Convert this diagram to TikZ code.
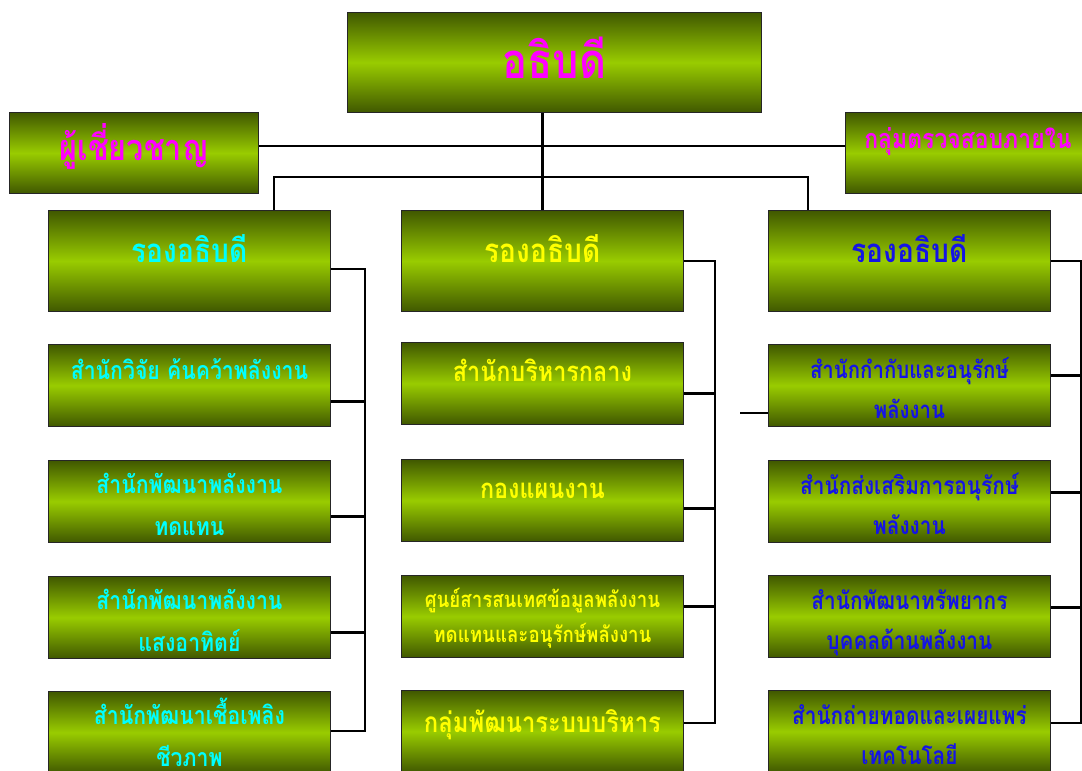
\documentclass[tikz,border=0pt]{standalone}
\usepackage{fontspec}
\newfontfamily\thaifont[Script=Thai, FakeStretch=0.85]{Loma}
\definecolor{olivedark}{HTML}{405800}
\definecolor{olivelight}{HTML}{99CC00}
\definecolor{dirmag}{HTML}{FF00FF}
\definecolor{vpcyan}{HTML}{00FFFF}
\definecolor{vpyellow}{HTML}{FFFF00}
\definecolor{vpblue}{HTML}{1414E6}
\begin{document}
\begin{tikzpicture}[x=1pt, y=-1pt,
  box/.style={draw=black!85, line width=0.9pt, anchor=north west, inner sep=0pt,
    top color=olivedark, bottom color=olivedark, middle color=olivelight},
  vpbox/.style={box, minimum width=282pt, minimum height=101pt},
  subbox/.style={box, minimum width=282pt, minimum height=82pt},
  txt/.style={anchor=base, inner sep=0pt, align=center, font=\thaifont\bfseries},
  conn/.style={line width=2.6pt, black}]
  \useasboundingbox (0,0) rectangle (1082,771);
  % okvirji
  \node [box, minimum width=414pt, minimum height=100pt] (dir) at (347,12) {};
  \node [box, minimum width=249pt, minimum height=81pt] (exp) at (9,112) {};
  \node [box, minimum width=245pt, minimum height=81pt] (aud) at (845,112) {};
  \node [vpbox] (vpL) at (48,210) {};
  \node [vpbox] (vpM) at (401,210) {};
  \node [vpbox] (vpR) at (768,210) {};
  \node [subbox] (sL1) at (48,344) {};
  \node [subbox] (sL2) at (48,460) {};
  \node [subbox] (sL3) at (48,576) {};
  \node [subbox] (sL4) at (48,691) {};
  \node [subbox] (sM1) at (401,342) {};
  \node [subbox] (sM2) at (401,459) {};
  \node [subbox] (sM3) at (401,575) {};
  \node [subbox] (sM4) at (401,690) {};
  \node [subbox] (sR1) at (768,344) {};
  \node [subbox] (sR2) at (768,460) {};
  \node [subbox] (sR3) at (768,575) {};
  \node [subbox] (sR4) at (768,690) {};
  % koordinate
  \coordinate (barL) at (274,177);
  \coordinate (barR) at (808,177);
  \coordinate (busL) at (365,731);
  \coordinate (busM) at (715,723);
  \coordinate (busR) at (1081,723);
  \coordinate (stray) at (740,413);
  % crte
  \draw [conn] (vpM.north |- dir.south) -- (vpM.north);
  \draw [conn] ([yshift=7pt]exp.east) -- ([yshift=7pt]aud.west);
  \draw [conn] (barL |- vpL.north) -- (barL) -- (barR) -- (barR |- vpR.north);
  \draw [conn] ([yshift=-8pt]vpL.east) -| (busL) -- (busL -| sL4.east);
  \draw [conn] ([yshift=-16pt]sL1.east) coordinate (a) -- (a -| busL);
  \draw [conn] ([yshift=-15pt]sL2.east) coordinate (a) -- (a -| busL);
  \draw [conn] ([yshift=-15pt]sL3.east) coordinate (a) -- (a -| busL);
  \draw [conn] (vpM.east) -| (busM) -- (busM -| sM4.east);
  \draw [conn] ([yshift=-10pt]sM1.east) coordinate (a) -- (a -| busM);
  \draw [conn] ([yshift=-8pt]sM2.east) coordinate (a) -- (a -| busM);
  \draw [conn] ([yshift=10pt]sM3.east) coordinate (a) -- (a -| busM);
  \draw [conn] (vpR.east) -| (busR) -- (busR -| sR4.east);
  \draw [conn] ([yshift=10pt]sR1.east) coordinate (a) -- (a -| busR);
  \draw [conn] ([yshift=9pt]sR2.east) coordinate (a) -- (a -| busR);
  \draw [conn] ([yshift=9pt]sR3.east) coordinate (a) -- (a -| busR);
  \draw [conn] (stray) -- (stray -| sR1.west);
  % oznake
  \node [txt, text=dirmag, font=\thaifont\bfseries\fontsize{49}{55}\selectfont] (tDir) at ([yshift=-66pt]dir.north) {อธิบดี};
  \node [txt, text=dirmag, font=\thaifont\bfseries\fontsize{36}{40}\selectfont] (tExp) at ([yshift=-48pt]exp.north) {ผู้เชี่ยวชาญ};
  \node [txt, text=dirmag, font=\thaifont\bfseries\fontsize{27}{34}\selectfont] (tAud) at ([yshift=-36pt]aud.north) {กลุ่มตรวจสอบภายใน};
  \node [txt, text=vpcyan, font=\thaifont\bfseries\fontsize{33}{40}\selectfont] (tVpL) at ([yshift=-52pt]vpL.north) {รองอธิบดี};
  \node [txt, text=vpyellow, font=\thaifont\bfseries\fontsize{33}{40}\selectfont] (tVpM) at ([yshift=-52pt]vpM.north) {รองอธิบดี};
  \node [txt, text=vpblue, font=\thaifont\bfseries\fontsize{33}{40}\selectfont] (tVpR) at ([yshift=-52pt]vpR.north) {รองอธิบดี};
  \node [txt, text=vpcyan, font=\thaifont\bfseries\fontsize{25}{42}\selectfont] (tL1) at ([yshift=-35pt]sL1.north) {สำนักวิจัย ค้นคว้าพลังงาน};
  \node [txt, text=vpcyan, font=\thaifont\bfseries\fontsize{25}{42}\selectfont] (tL2) at ([yshift=-75pt]sL2.north) {สำนักพัฒนาพลังงาน\\ทดแทน};
  \node [txt, text=vpcyan, font=\thaifont\bfseries\fontsize{25}{42}\selectfont] (tL3) at ([yshift=-75pt]sL3.north) {สำนักพัฒนาพลังงาน\\แสงอาทิตย์};
  \node [txt, text=vpcyan, font=\thaifont\bfseries\fontsize{25}{42}\selectfont] (tL4) at ([yshift=-75pt]sL4.north) {สำนักพัฒนาเชื้อเพลิง\\ชีวภาพ};
  \node [txt, text=vpyellow, font=\thaifont\bfseries\fontsize{27.5}{42}\selectfont] (tM1) at ([yshift=-39pt]sM1.north) {สำนักบริหารกลาง};
  \node [txt, text=vpyellow, font=\thaifont\bfseries\fontsize{27.5}{42}\selectfont] (tM2) at ([yshift=-39pt]sM2.north) {กองแผนงาน};
  \node [txt, text=vpyellow, font=\thaifont\bfseries\fontsize{22}{35}\selectfont] (tM3) at ([yshift=-67pt]sM3.north) {ศูนย์สารสนเทศข้อมูลพลังงาน\\ทดแทนและอนุรักษ์พลังงาน};
  \node [txt, text=vpyellow, font=\thaifont\bfseries\fontsize{28}{42}\selectfont] (tM4) at ([yshift=-42pt]sM4.north) {กลุ่มพัฒนาระบบบริหาร};
  \node [txt, text=vpblue, font=\thaifont\bfseries\fontsize{24}{40}\selectfont] (tR1) at ([yshift=-74pt]sR1.north) {สำนักกำกับและอนุรักษ์\\พลังงาน};
  \node [txt, text=vpblue, font=\thaifont\bfseries\fontsize{24.5}{40}\selectfont] (tR2) at ([yshift=-74pt]sR2.north) {สำนักส่งเสริมการอนุรักษ์\\พลังงาน};
  \node [txt, text=vpblue, font=\thaifont\bfseries\fontsize{24.5}{40}\selectfont] (tR3) at ([yshift=-74pt]sR3.north) {สำนักพัฒนาทรัพยากร\\บุคคลด้านพลังงาน};
  \node [txt, text=vpblue, font=\thaifont\bfseries\fontsize{24.5}{40}\selectfont] (tR4) at ([yshift=-74pt]sR4.north) {สำนักถ่ายทอดและเผยแพร่\\เทคโนโลยี};
\end{tikzpicture}
\end{document}
